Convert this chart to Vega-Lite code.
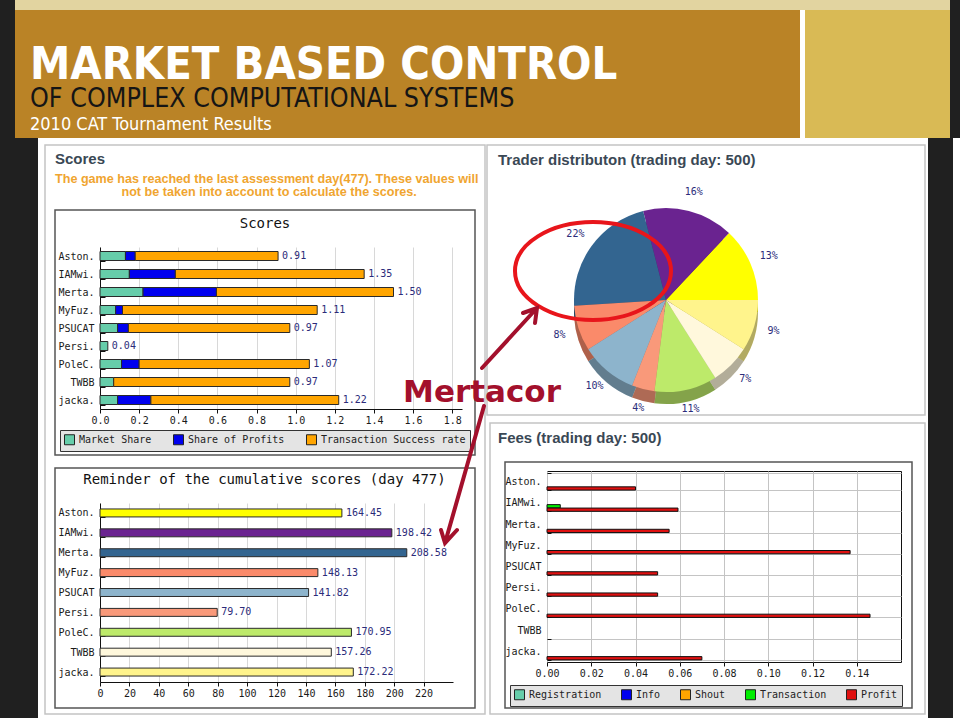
{
  "$schema": "https://vega.github.io/schema/vega-lite/v6.json",
  "background": "#ffffff",
  "padding": 0,
  "spacing": 0,
  "resolve": {"scale": {"color": "independent"}, "legend": {"color": "independent"}},
  "config": {
    "view": {"stroke": null},
    "axis": {"labelFont": "DejaVu Sans Mono", "labelFontSize": 10, "labelColor": "#1a1a1a", "domainColor": "#111111", "tickColor": "#111111"}
  },
  "datasets": {
    "scores": [
      {"name": "Aston.", "series": "Market Share", "value": 0.13},
      {"name": "Aston.", "series": "Share of Profits", "value": 0.05},
      {"name": "Aston.", "series": "Transaction Success rate", "value": 0.73},
      {"name": "IAMwi.", "series": "Market Share", "value": 0.15},
      {"name": "IAMwi.", "series": "Share of Profits", "value": 0.235},
      {"name": "IAMwi.", "series": "Transaction Success rate", "value": 0.965},
      {"name": "Merta.", "series": "Market Share", "value": 0.22},
      {"name": "Merta.", "series": "Share of Profits", "value": 0.375},
      {"name": "Merta.", "series": "Transaction Success rate", "value": 0.905},
      {"name": "MyFuz.", "series": "Market Share", "value": 0.08},
      {"name": "MyFuz.", "series": "Share of Profits", "value": 0.035},
      {"name": "MyFuz.", "series": "Transaction Success rate", "value": 0.995},
      {"name": "PSUCAT", "series": "Market Share", "value": 0.09},
      {"name": "PSUCAT", "series": "Share of Profits", "value": 0.055},
      {"name": "PSUCAT", "series": "Transaction Success rate", "value": 0.825},
      {"name": "Persi.", "series": "Market Share", "value": 0.04},
      {"name": "PoleC.", "series": "Market Share", "value": 0.11},
      {"name": "PoleC.", "series": "Share of Profits", "value": 0.09},
      {"name": "PoleC.", "series": "Transaction Success rate", "value": 0.87},
      {"name": "TWBB", "series": "Market Share", "value": 0.07},
      {"name": "TWBB", "series": "Transaction Success rate", "value": 0.9},
      {"name": "jacka.", "series": "Market Share", "value": 0.09},
      {"name": "jacka.", "series": "Share of Profits", "value": 0.17},
      {"name": "jacka.", "series": "Transaction Success rate", "value": 0.96}
    ],
    "scoreTotals": [
      {"name": "Aston.", "total": 0.91},
      {"name": "IAMwi.", "total": 1.35},
      {"name": "Merta.", "total": 1.5},
      {"name": "MyFuz.", "total": 1.11},
      {"name": "PSUCAT", "total": 0.97},
      {"name": "Persi.", "total": 0.04},
      {"name": "PoleC.", "total": 1.07},
      {"name": "TWBB", "total": 0.97},
      {"name": "jacka.", "total": 1.22}
    ],
    "cumulative": [
      {"name": "Aston.", "score": 164.45},
      {"name": "IAMwi.", "score": 198.42},
      {"name": "Merta.", "score": 208.58},
      {"name": "MyFuz.", "score": 148.13},
      {"name": "PSUCAT", "score": 141.82},
      {"name": "Persi.", "score": 79.7},
      {"name": "PoleC.", "score": 170.95},
      {"name": "TWBB", "score": 157.26},
      {"name": "jacka.", "score": 172.22}
    ],
    "traders": [
      {"name": "Aston.", "pct": 13, "idx": 1, "label": "13%"},
      {"name": "IAMwi.", "pct": 16, "idx": 2, "label": "16%"},
      {"name": "Merta.", "pct": 22, "idx": 3, "label": "22%"},
      {"name": "MyFuz.", "pct": 8, "idx": 4, "label": "8%"},
      {"name": "PSUCAT", "pct": 10, "idx": 5, "label": "10%"},
      {"name": "Persi.", "pct": 4, "idx": 6, "label": "4%"},
      {"name": "PoleC.", "pct": 11, "idx": 7, "label": "11%"},
      {"name": "TWBB", "pct": 7, "idx": 8, "label": "7%"},
      {"name": "jacka.", "pct": 9, "idx": 9, "label": "9%"}
    ],
    "fees": [
      {"name": "Aston.", "fee": "Profit", "value": 0.04},
      {"name": "IAMwi.", "fee": "Transaction", "value": 0.006},
      {"name": "IAMwi.", "fee": "Profit", "value": 0.0592},
      {"name": "Merta.", "fee": "Profit", "value": 0.0552},
      {"name": "MyFuz.", "fee": "Profit", "value": 0.137},
      {"name": "PSUCAT", "fee": "Profit", "value": 0.05},
      {"name": "Persi.", "fee": "Profit", "value": 0.05},
      {"name": "PoleC.", "fee": "Profit", "value": 0.146},
      {"name": "jacka.", "fee": "Profit", "value": 0.07}
    ],
    "note": [{"text": "Mertacor"}]
  },
  "vconcat": [
    {
      "hconcat": [
        {"width": 15, "height": 10, "data": {"values": []}, "mark": "point", "view": {"fill": "#202020"}},
        {"width": 935, "height": 10, "data": {"values": []}, "mark": "point", "view": {"fill": "#E2D4A0"}},
        {"width": 10, "height": 10, "data": {"values": []}, "mark": "point", "view": {"fill": "#202020"}}
      ],
      "spacing": 0, "bounds": "flush"
    },
    {
      "hconcat": [
        {"width": 15, "height": 104, "data": {"values": []}, "mark": "point", "view": {"fill": "#202020"}},
        {
          "width": 785, "height": 104, "data": {"values": []}, "mark": "point", "view": {"fill": "#BA8326"},
          "title": {
            "text": "MARKET BASED CONTROL",
            "subtitle": "OF COMPLEX COMPUTATIONAL SYSTEMS",
            "orient": "top", "anchor": "start", "frame": "group", "dx": 15, "offset": 0, "dy": 103,
            "font": "'DejaVu Sans Condensed', 'DejaVu Sans', sans-serif", "fontSize": 45, "fontWeight": "bold", "color": "#ffffff",
            "subtitleFont": "'DejaVu Sans Condensed', 'DejaVu Sans', sans-serif", "subtitleFontSize": 26.6, "subtitleColor": "#151515", "subtitlePadding": -2
          }
        },
        {"width": 5, "height": 104, "data": {"values": []}, "mark": "point", "view": {"fill": "#ffffff"}},
        {"width": 145, "height": 104, "data": {"values": []}, "mark": "point", "view": {"fill": "#D9BA55"}},
        {"width": 10, "height": 104, "data": {"values": []}, "mark": "point", "view": {"fill": "#202020"}}
      ],
      "spacing": 0, "bounds": "flush"
    },
    {
      "hconcat": [
        {"width": 15, "height": 24, "data": {"values": []}, "mark": "point", "view": {"fill": "#202020"}},
        {
          "width": 785, "height": 24, "data": {"values": []}, "mark": "point", "view": {"fill": "#BA8326"},
          "title": {
            "text": "2010 CAT Tournament Results",
            "orient": "top", "anchor": "start", "frame": "group", "dx": 15, "offset": 0, "dy": 20,
            "font": "'DejaVu Sans Condensed', 'DejaVu Sans', sans-serif", "fontSize": 18, "fontWeight": "normal", "color": "#ffffff"
          }
        },
        {"width": 5, "height": 24, "data": {"values": []}, "mark": "point", "view": {"fill": "#ffffff"}},
        {"width": 145, "height": 24, "data": {"values": []}, "mark": "point", "view": {"fill": "#D9BA55"}},
        {"width": 10, "height": 24, "data": {"values": []}, "mark": "point", "view": {"fill": "#202020"}}
      ],
      "spacing": 0, "bounds": "flush"
    },
    {
      "resolve": {"scale": {"color": "independent"}, "legend": {"color": "independent"}},
      "spacing": -6,
      "hconcat": [
        {
          "resolve": {"scale": {"color": "independent"}, "legend": {"color": "independent"}},
          "spacing": 4,
          "hconcat": [
            {"width": 38, "height": 580, "data": {"values": []}, "mark": "point", "view": {"fill": "#202020"}},
            {
              "resolve": {"scale": {"color": "independent"}, "legend": {"color": "independent"}},
              "spacing": -437,
              "hconcat": [
                {
                  "resolve": {"scale": {"color": "independent"}, "legend": {"color": "independent"}},
                  "spacing": 94, "bounds": "flush",
                  "vconcat": [
                    {
                      "width": 362, "height": 15, "data": {"values": []}, "mark": "point",
                      "title": {
                        "text": "Scores",
                        "subtitle": ["The game has reached the last assessment day(477). These values will", "\u200b\u00a0\u00a0\u00a0\u00a0\u00a0\u00a0\u00a0\u00a0\u00a0\u00a0\u00a0\u00a0\u00a0\u00a0\u00a0\u00a0\u00a0\u00a0\u00a0not be taken into account to calculate the scores."],
                        "orient": "bottom", "anchor": "start", "frame": "group", "dx": -45, "offset": 0, "dy": -1,
                        "font": "Liberation Sans", "fontSize": 15, "fontWeight": "bold", "color": "#3A4855",
                        "subtitleFont": "Liberation Sans", "subtitleFontSize": 12.6, "subtitleFontWeight": "bold",
                        "subtitleColor": "#F0A530", "subtitlePadding": 6, "subtitleLineHeight": 13
                      }
                    },
                    {
                      "width": 362, "height": 162,
                      "title": {"text": "Scores", "font": "DejaVu Sans Mono", "fontSize": 14, "fontWeight": "normal", "color": "#111111", "anchor": "middle", "frame": "group", "dx": -16, "offset": 11},
                      "layer": [
                        {
                          "data": {"name": "scores"},
                          "mark": {"type": "bar", "stroke": "#2a2a2a", "strokeWidth": 1},
                          "encoding": {
                            "y": {"field": "name", "type": "nominal", "sort": null,
                              "scale": {"domain": ["Aston.", "IAMwi.", "Merta.", "MyFuz.", "PSUCAT", "Persi.", "PoleC.", "TWBB", "jacka."], "paddingInner": 0.5, "paddingOuter": 0.25},
                              "axis": {"title": null, "tickBand": "extent", "tickSize": -5, "labelPadding": 11, "grid": false}},
                            "x": {"field": "value", "type": "quantitative", "stack": "zero",
                              "scale": {"domain": [0, 1.85], "nice": false},
                              "axis": {"title": null, "values": [0, 0.2, 0.4, 0.6, 0.8, 1, 1.2, 1.4, 1.6, 1.8], "format": ".1f",
                                "labelOverlap": false, "labelFlush": false, "grid": true, "gridColor": "#d8d8d8", "tickSize": 4}},
                            "color": {"field": "series", "type": "nominal",
                              "scale": {"domain": ["Market Share", "Share of Profits", "Transaction Success rate"], "range": ["#66CDAA", "#0000EE", "#FFA500"]},
                              "legend": {"orient": "none", "legendX": -40, "legendY": 183, "direction": "horizontal", "title": null,
                                "fillColor": "#e4e4e4", "strokeColor": "#333333", "padding": 4, "symbolType": "square", "symbolSize": 100,
                                "symbolStrokeColor": "#222222", "symbolStrokeWidth": 1, "labelFont": "DejaVu Sans Mono", "labelFontSize": 10,
                                "labelColor": "#222222", "columnPadding": 19}}
                          }
                        },
                        {
                          "data": {"name": "scoreTotals"},
                          "mark": {"type": "text", "align": "left", "dx": 4, "font": "DejaVu Sans Mono", "fontSize": 10, "color": "#2b2b7a"},
                          "encoding": {
                            "y": {"field": "name", "type": "nominal", "sort": null},
                            "x": {"field": "total", "type": "quantitative",
                              "axis": {"title": null, "values": [0, 0.2, 0.4, 0.6, 0.8, 1, 1.2, 1.4, 1.6, 1.8], "format": ".1f",
                                "labelOverlap": false, "labelFlush": false, "grid": true, "gridColor": "#d8d8d8", "tickSize": 4}},
                            "text": {"field": "total", "type": "quantitative", "format": ".2f"}
                          }
                        }
                      ]
                    },
                    {
                      "width": 353, "height": 179,
                      "title": {"text": "Reminder of the cumulative scores (day 477)", "font": "DejaVu Sans Mono", "fontSize": 14, "fontWeight": "normal", "color": "#111111", "anchor": "middle", "frame": "group", "dx": -12, "offset": 11},
                      "layer": [
                        {
                          "data": {"name": "cumulative"},
                          "mark": {"type": "bar", "stroke": "#2a2a2a", "strokeWidth": 1},
                          "encoding": {
                            "y": {"field": "name", "type": "nominal", "sort": null,
                              "scale": {"domain": ["Aston.", "IAMwi.", "Merta.", "MyFuz.", "PSUCAT", "Persi.", "PoleC.", "TWBB", "jacka."], "paddingInner": 0.6, "paddingOuter": 0.3},
                              "axis": {"title": null, "tickBand": "extent", "tickSize": -5, "labelPadding": 11, "grid": false}},
                            "x": {"field": "score", "type": "quantitative",
                              "scale": {"domain": [0, 240], "nice": false},
                              "axis": {"title": null, "values": [0, 20, 40, 60, 80, 100, 120, 140, 160, 180, 200, 220], "tickCount": 12, "format": "d",
                                "labelOverlap": false, "labelSeparation": 0, "labelBound": false, "labelFlush": false, "grid": true, "gridColor": "#d8d8d8", "tickSize": 4}},
                            "color": {"field": "name", "type": "nominal",
                              "scale": {"domain": ["Aston.", "IAMwi.", "Merta.", "MyFuz.", "PSUCAT", "Persi.", "PoleC.", "TWBB", "jacka."],
                                "range": ["#FFFF00", "#6A2390", "#336590", "#FA8A6A", "#8DB4CC", "#F9997A", "#BDEA6A", "#FFF8DC", "#FFF48C"]},
                              "legend": null}
                          }
                        },
                        {
                          "data": {"name": "cumulative"},
                          "mark": {"type": "text", "align": "left", "dx": 4, "font": "DejaVu Sans Mono", "fontSize": 10, "color": "#2b2b7a"},
                          "encoding": {
                            "y": {"field": "name", "type": "nominal", "sort": null},
                            "x": {"field": "score", "type": "quantitative",
                              "axis": {"title": null, "values": [0, 20, 40, 60, 80, 100, 120, 140, 160, 180, 200, 220], "tickCount": 12, "format": "d",
                                "labelOverlap": false, "labelSeparation": 0, "labelBound": false, "labelFlush": false, "grid": true, "gridColor": "#d8d8d8", "tickSize": 4}},
                            "text": {"field": "score", "type": "quantitative", "format": ".2f"}
                          }
                        }
                      ]
                    }
                  ]
                },
                {
                  "resolve": {"scale": {"color": "independent"}, "legend": {"color": "independent"}},
                  "spacing": 9, "bounds": "flush",
                  "vconcat": [
                    {
                      "width": 238, "height": 324,
                      "title": {"text": "Trader distributon (trading day: 500)", "orient": "top", "anchor": "start", "frame": "group", "dx": -49, "offset": 0, "dy": 30,
                        "font": "Liberation Sans", "fontSize": 15, "fontWeight": "bold", "color": "#3A4855"},
                      "layer": [
                        {
                          "data": {"name": "note"},
                          "mark": {"type": "point", "shape": "M -621 -155 H -181 V 414 H -621 Z M -179 -155 H 259 V 115 H -179 Z M -176 123 H 259 V 414 H -176 Z", "size": 4, "filled": false, "fill": null, "stroke": "#c4c4c4", "strokeWidth": 1.5, "opacity": 1},
                          "encoding": {}
                        },
                        {
                          "data": {"name": "note"},
                          "mark": {"type": "point", "shape": "M -611 -90 H -191 V 155 H -611 Z M -611 168 H -191 V 408 H -611 Z M -161 162 H 246 V 408 H -161 Z", "size": 4, "filled": false, "fill": null, "stroke": "#555555", "strokeWidth": 1.5, "opacity": 1},
                          "encoding": {}
                        },
                        {
                          "data": {"name": "traders"},
                          "mark": {"type": "arc", "outerRadius": 92, "yOffset": 12},
                          "encoding": {
                            "theta": {"field": "pct", "type": "quantitative", "stack": true, "scale": {"range": [1.5708, 7.854]}},
                            "order": {"field": "idx", "type": "quantitative", "sort": "descending"},
                            "color": {"field": "name", "type": "nominal", "legend": null}
                          }
                        },
                        {
                          "data": {"name": "traders"},
                          "mark": {"type": "arc", "outerRadius": 92, "yOffset": 12, "fill": "#000000", "fillOpacity": 0.3},
                          "encoding": {
                            "theta": {"field": "pct", "type": "quantitative", "stack": true},
                            "order": {"field": "idx", "type": "quantitative", "sort": "descending"}
                          }
                        },
                        {
                          "data": {"name": "traders"},
                          "mark": {"type": "arc", "outerRadius": 92},
                          "encoding": {
                            "theta": {"field": "pct", "type": "quantitative", "stack": true},
                            "order": {"field": "idx", "type": "quantitative", "sort": "descending"},
                            "color": {"field": "name", "type": "nominal",
                              "scale": {"domain": ["Aston.", "IAMwi.", "Merta.", "MyFuz.", "PSUCAT", "Persi.", "PoleC.", "TWBB", "jacka."],
                                "range": ["#FFFF00", "#6A2390", "#336590", "#FA8A6A", "#8DB4CC", "#F9997A", "#BDEA6A", "#FFF8DC", "#FFF48C"]},
                              "legend": {"orient": "none", "legendX": 279, "legendY": 83, "title": null, "direction": "vertical",
                                "fillColor": "#ececec", "strokeColor": "#333333", "padding": 6, "symbolType": "square", "symbolSize": 100,
                                "symbolStrokeColor": "#222222", "symbolStrokeWidth": 1, "labelFont": "DejaVu Sans Mono", "labelFontSize": 10,
                                "labelColor": "#222222", "rowPadding": -1}}
                          }
                        },
                        {
                          "data": {"name": "traders"},
                          "mark": {"type": "text", "radius": 112, "font": "DejaVu Sans Mono", "fontSize": 10, "color": "#2b2b7a"},
                          "encoding": {
                            "theta": {"field": "pct", "type": "quantitative", "stack": true},
                            "order": {"field": "idx", "type": "quantitative", "sort": "descending"},
                            "text": {"field": "label", "type": "nominal"}
                          }
                        },
                        {
                          "data": {"name": "note"},
                          "mark": {"type": "point", "shape": "M -151 -29 A 78 49 0 1 0 5 -29 A 78 49 0 1 0 -151 -29 Z", "size": 4, "filled": false, "fill": null, "stroke": "#E8151B", "strokeWidth": 4, "opacity": 1},
                          "encoding": {}
                        },
                        {
                          "data": {"name": "note"},
                          "mark": {"type": "point", "shape": "M -184 68 L -129 8 M -143 13 L -129 8 L -131 23 M -182 106 L -221 243 M -225 230 L -221 243 L -209 230", "size": 4, "filled": false, "fill": null, "stroke": "#A3102C", "strokeWidth": 4, "strokeCap": "round", "opacity": 1},
                          "encoding": {}
                        },
                        {
                          "data": {"name": "note"},
                          "mark": {"type": "text", "font": "DejaVu Sans", "fontWeight": "bold", "fontSize": 31, "color": "#A3102C", "align": "center", "baseline": "alphabetic", "dx": -184, "dy": 102},
                          "encoding": {"text": {"field": "text", "type": "nominal"}}
                        }
                      ]
                    },
                    {
                      "width": 354, "height": 191,
                      "view": {"stroke": "#111111", "strokeWidth": 1},
                      "title": {"text": "Fees (trading day: 500)", "orient": "top", "anchor": "start", "frame": "group", "dx": -49, "offset": 20,
                        "font": "Liberation Sans", "fontSize": 15, "fontWeight": "bold", "color": "#3A4855"},
                      "data": {"name": "fees"},
                      "mark": {"type": "bar", "stroke": "#111111", "strokeWidth": 1},
                      "encoding": {
                        "y": {"field": "name", "type": "nominal", "sort": null,
                          "scale": {"domain": ["Aston.", "IAMwi.", "Merta.", "MyFuz.", "PSUCAT", "Persi.", "PoleC.", "TWBB", "jacka."], "paddingInner": 0.2, "paddingOuter": 0.1},
                          "axis": {"title": null, "tickBand": "extent", "tickSize": -4, "labelPadding": 10, "grid": true, "gridColor": "#c4c4c4", "domain": false}},
                        "yOffset": {"field": "fee", "type": "nominal", "scale": {"domain": ["Registration", "Info", "Shout", "Transaction", "Profit"], "paddingInner": 0.05}},
                        "x": {"field": "value", "type": "quantitative",
                          "scale": {"domain": [0, 0.16], "nice": false},
                          "axis": {"title": null, "values": [0, 0.02, 0.04, 0.06, 0.08, 0.1, 0.12, 0.14], "format": ".2f",
                            "labelOverlap": false, "labelFlush": false, "grid": true, "gridColor": "#c4c4c4", "tickSize": 4, "domain": false}},
                        "color": {"field": "fee", "type": "nominal",
                          "scale": {"domain": ["Registration", "Info", "Shout", "Transaction", "Profit"], "range": ["#66CDAA", "#0000EE", "#FFA500", "#00EE00", "#E01010"]},
                          "legend": {"orient": "none", "legendX": -37, "legendY": 214, "direction": "horizontal", "title": null,
                            "fillColor": "#e4e4e4", "strokeColor": "#333333", "padding": 4, "symbolType": "square", "symbolSize": 100,
                            "symbolStrokeColor": "#222222", "symbolStrokeWidth": 1, "labelFont": "DejaVu Sans Mono", "labelFontSize": 10,
                            "labelColor": "#222222", "columnPadding": 17}}
                      }
                    }
                  ]
                }
              ]
            }
          ]
        },
        {"width": 25, "height": 580, "data": {"values": []}, "mark": "point", "view": {"fill": "#202020"}}
      ]
    }
  ]
}
